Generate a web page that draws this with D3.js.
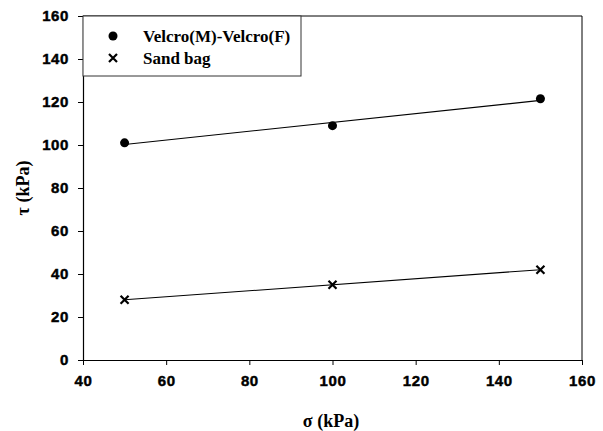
<!DOCTYPE html>
<html>
<head>
<meta charset="utf-8">
<script src="https://cdn.jsdelivr.net/npm/d3@7"></script>
<style>
  html, body { margin: 0; padding: 0; background: #fff; }
  svg { display: block; }
</style>
</head>
<body>
<svg id="chart" width="603" height="431"></svg>
<script>
// Normal stress (kPa) and shear strength (kPa) for each interface
const sigma = [50, 100, 150];
const velcro = [101, 109, 121.5];
const sandBag = [28, 35, 42];
const seriesNames = ["Velcro(M)-Velcro(F)", "Sand bag"];
const xTicks = [40, 60, 80, 100, 120, 140, 160];
const yTicks = [0, 20, 40, 60, 80, 100, 120, 140, 160];

const svg = d3.select("#chart");
const plotLeft = 83, plotRight = 582, plotTop = 16, plotBottom = 360;

const x = d3.scaleLinear().domain([40, 160]).range([plotLeft, plotRight]);
const y = d3.scaleLinear().domain([0, 160]).range([plotBottom, plotTop]);

const sansBold = "Arial, 'Liberation Sans', sans-serif";
const serifBold = "'Liberation Serif', 'Times New Roman', serif";

// Least-squares trend line through each series
function fit(xs, ys) {
  const n = xs.length;
  const mx = d3.mean(xs), my = d3.mean(ys);
  let sxy = 0, sxx = 0;
  for (let i = 0; i < n; i++) { sxy += (xs[i] - mx) * (ys[i] - my); sxx += (xs[i] - mx) ** 2; }
  const b = sxy / sxx, a = my - b * mx;
  const x0 = d3.min(xs), x1 = d3.max(xs);
  return [[x0, a + b * x0], [x1, a + b * x1]];
}

// Frame: top and right edges
svg.append("line").attr("x1", plotLeft).attr("x2", plotRight).attr("y1", plotTop).attr("y2", plotTop)
  .attr("stroke", "#000").attr("stroke-width", 1);
svg.append("line").attr("x1", plotRight).attr("x2", plotRight).attr("y1", plotTop).attr("y2", plotBottom)
  .attr("stroke", "#000").attr("stroke-width", 1);

// Axes
const xAxis = svg.append("g").attr("transform", `translate(0,${plotBottom})`)
  .call(d3.axisBottom(x).tickValues(xTicks).tickSize(5).tickPadding(10).tickSizeOuter(0));
const yAxis = svg.append("g").attr("transform", `translate(${plotLeft},0)`)
  .call(d3.axisLeft(y).tickValues(yTicks).tickSize(5).tickPadding(9).tickSizeOuter(0));

[xAxis, yAxis].forEach(g => {
  g.attr("font-family", null).attr("font-size", null);
  g.select(".domain").attr("stroke", "#000").attr("stroke-width", 1.2);
  g.selectAll(".tick line").attr("stroke", "#000");
  g.selectAll(".tick text")
    .attr("fill", "#000")
    .attr("stroke", "#000")
    .attr("stroke-width", 0.45)
    .style("font-family", sansBold)
    .style("font-weight", "bold")
    .style("font-size", "15px")
    .style("letter-spacing", "0.6px");
});

// Trend lines
const line = d3.line().x(d => x(d[0])).y(d => y(d[1]));
[velcro, sandBag].forEach(vals => {
  svg.append("path").attr("d", line(fit(sigma, vals)))
    .attr("fill", "none").attr("stroke", "#000").attr("stroke-width", 1.1);
});

// Markers
const circleSym = d3.symbol().type(d3.symbolCircle).size(64);
const crossSize = 4;
function drawCross(g, cx, cy) {
  g.append("path")
    .attr("d", `M${cx - crossSize},${cy - crossSize}L${cx + crossSize},${cy + crossSize}M${cx - crossSize},${cy + crossSize}L${cx + crossSize},${cy - crossSize}`)
    .attr("stroke", "#000").attr("stroke-width", 2.2).attr("fill", "none");
}

svg.append("g").selectAll("path").data(sigma.map((s, i) => [s, velcro[i]])).join("path")
  .attr("d", circleSym)
  .attr("transform", d => `translate(${x(d[0])},${y(d[1])})`)
  .attr("fill", "#000");

const crosses = svg.append("g");
sigma.forEach((s, i) => drawCross(crosses, x(s), y(sandBag[i])));

// Legend
const legend = svg.append("g");
legend.append("rect").attr("x", plotLeft).attr("y", plotTop).attr("width", 218).attr("height", 60)
  .attr("fill", "#fff").attr("stroke", "#333").attr("stroke-width", 1);
legend.append("path").attr("d", circleSym).attr("transform", `translate(113,36)`).attr("fill", "#000");
drawCross(legend, 113, 58);
seriesNames.forEach((name, i) => {
  legend.append("text").attr("x", 143).attr("y", 36 + i * 22).attr("dy", "0.35em")
    .text(name)
    .style("font-family", serifBold)
    .style("font-weight", "700").style("font-size", "17px");
});

// Axis titles
svg.append("text").attr("x", 331).attr("y", 421).attr("dy", "0.35em")
  .attr("text-anchor", "middle").text("σ (kPa)")
  .style("font-family", serifBold)
  .style("font-weight", "700").style("font-size", "18px");
svg.append("text").attr("transform", `translate(23,${(plotTop + plotBottom) / 2}) rotate(-90)`)
  .attr("dy", "0.35em").attr("text-anchor", "middle").text("τ (kPa)")
  .style("font-family", serifBold)
  .style("font-weight", "700").style("font-size", "18px");
</script>
</body>
</html>
